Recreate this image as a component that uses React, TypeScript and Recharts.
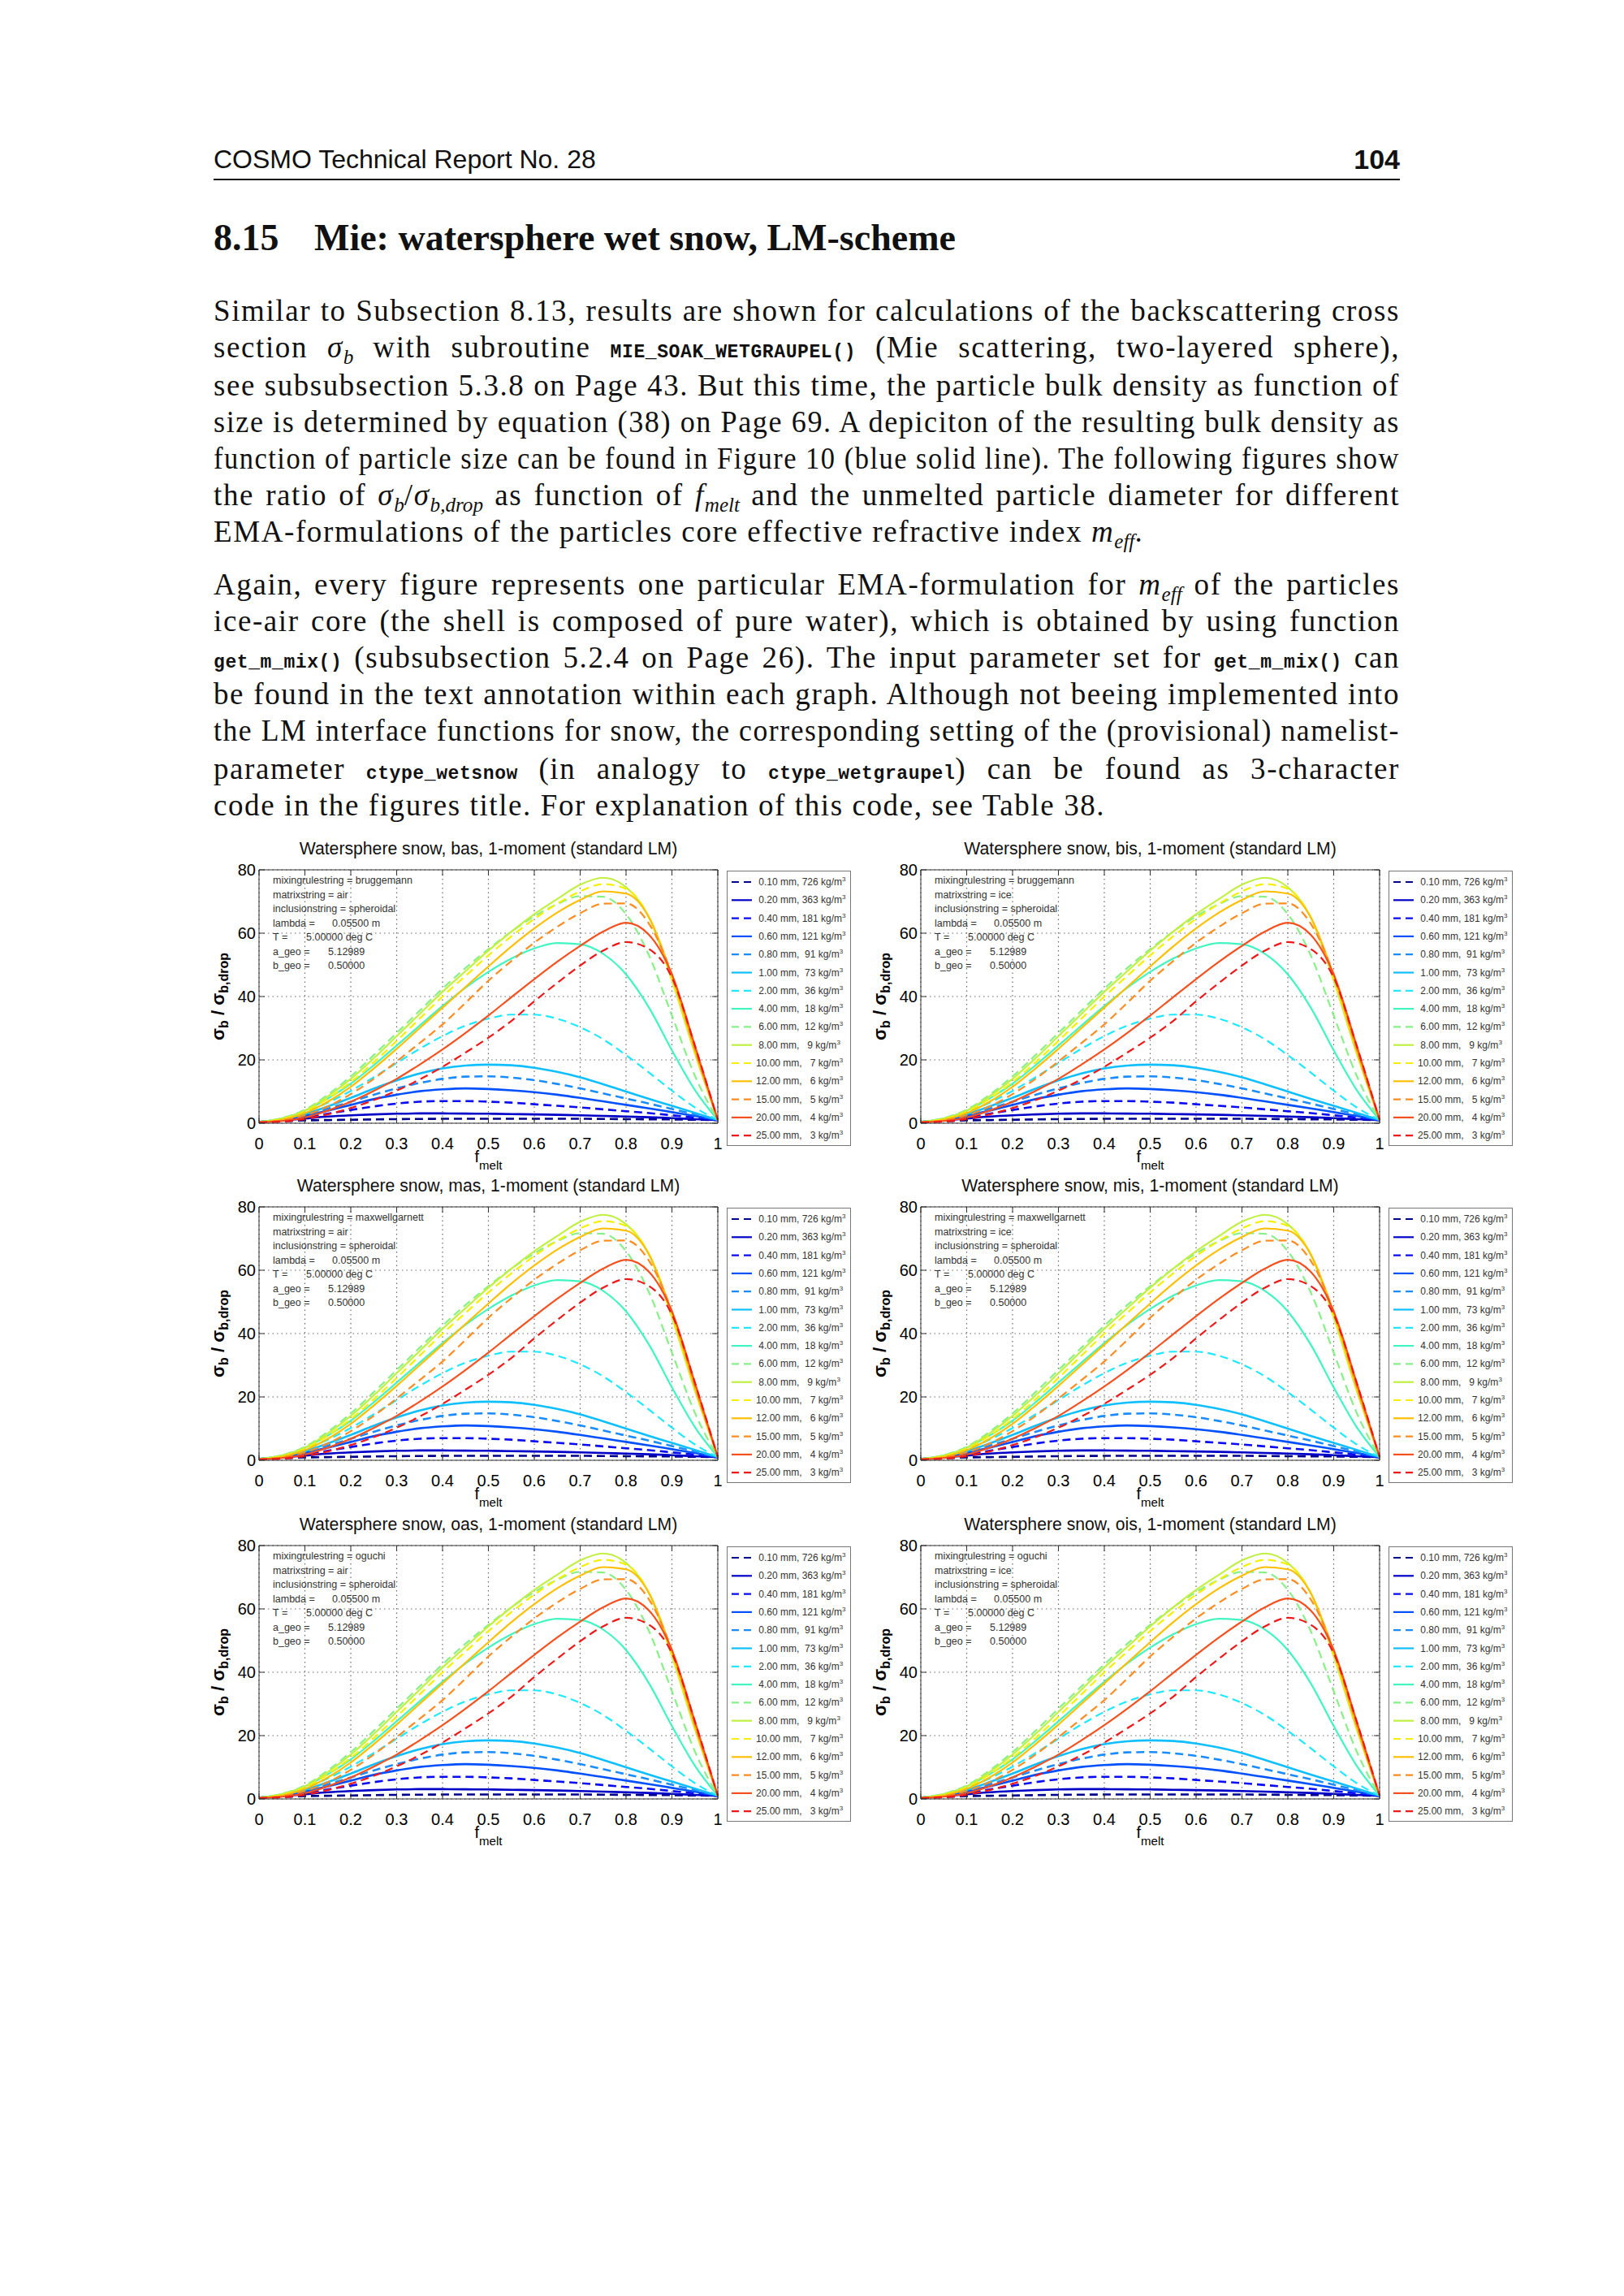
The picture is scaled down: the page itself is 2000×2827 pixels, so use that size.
import React from 'react';
import { LineChart, Line, XAxis, YAxis, CartesianGrid, Legend } from 'recharts';

// ---------------- data ----------------
const F_MELT = [0, 0.05, 0.1, 0.15, 0.2, 0.25, 0.3, 0.35, 0.4, 0.45, 0.5, 0.55, 0.6, 0.65, 0.7, 0.75, 0.8, 0.85, 0.9, 0.95, 1];

const D010 = [0.4, 0.6, 0.9, 1.0, 1.1, 1.2, 1.3, 1.35, 1.4, 1.4, 1.4, 1.4, 1.4, 1.4, 1.4, 1.35, 1.3, 1.25, 1.2, 1.1, 1.0];
const D020 = [0.4, 0.9, 1.5, 2.1, 2.5, 2.8, 3.0, 3.1, 3.1, 3.05, 3.0, 2.9, 2.8, 2.65, 2.5, 2.3, 2.1, 1.9, 1.6, 1.3, 1.0];
const D040 = [0.4, 1.0, 1.8, 3.0, 4.2, 5.3, 6.2, 6.8, 7.0, 7.0, 6.8, 6.5, 6.0, 5.5, 5.0, 4.4, 3.8, 3.2, 2.5, 1.8, 1.0];
const D060 = [0.4, 1.1, 2.3, 4.0, 5.8, 7.6, 9.0, 10.1, 10.7, 11.0, 10.8, 10.4, 9.8, 9.0, 8.0, 6.9, 5.8, 4.7, 3.5, 2.3, 1.0];
const D080 = [0.4, 1.2, 2.6, 4.6, 6.8, 9.0, 11.0, 12.7, 14.0, 14.7, 14.8, 14.4, 13.6, 12.4, 11.0, 9.4, 7.8, 6.2, 4.5, 2.8, 1.0];
const D100 = [0.4, 1.3, 2.9, 5.3, 8.0, 10.9, 13.5, 15.7, 17.3, 18.2, 18.5, 18.3, 17.5, 16.2, 14.5, 12.3, 10.0, 7.7, 5.5, 3.3, 1.0];
const D200 = [0.4, 1.3, 3.4, 6.5, 10.2, 14.5, 19.0, 23.5, 27.5, 30.8, 33.0, 34.3, 34.3, 33.0, 30.3, 26.5, 21.5, 16.0, 10.3, 5.0, 1.0];
const D400 = [0.4, 1.5, 4.0, 7.8, 12.5, 18.3, 24.5, 30.8, 37.0, 42.8, 47.8, 52.0, 55.2, 56.9, 56.5, 53.5, 47.0, 36.5, 23.0, 10.5, 1.0];
const D600 = [0.4, 1.6, 4.3, 9.0, 14.8, 21.5, 28.5, 35.5, 42.5, 49.0, 55.0, 60.5, 65.3, 69.2, 71.7, 71.5, 66.0, 53.0, 34.0, 15.0, 1.0];
const D800 = [0.4, 1.5, 4.0, 8.5, 14.0, 20.5, 27.5, 34.5, 41.5, 48.0, 54.5, 60.5, 66.0, 70.8, 75.3, 77.5, 74.5, 65.0, 45.0, 22.0, 1.0];
const D1000 = [0.3, 1.3, 3.6, 7.8, 13.0, 19.2, 26.0, 33.0, 40.0, 46.5, 53.0, 59.0, 64.5, 69.3, 73.2, 75.5, 74.0, 65.0, 45.5, 22.5, 1.0];
const D1200 = [0.3, 1.1, 3.2, 6.8, 11.5, 17.3, 23.5, 30.0, 36.5, 43.0, 49.5, 55.8, 61.5, 66.5, 70.5, 73.2, 72.5, 65.0, 46.5, 23.0, 1.0];
const D1500 = [0.3, 0.9, 2.5, 5.3, 9.2, 14.0, 19.5, 25.3, 31.2, 38.0, 45.0, 51.2, 57.0, 62.0, 66.3, 69.3, 69.4, 63.0, 47.0, 23.5, 1.0];
const D2000 = [0.3, 0.7, 1.8, 4.0, 6.8, 10.2, 14.0, 18.5, 23.3, 28.5, 34.0, 39.8, 45.5, 51.0, 56.0, 60.5, 63.3, 59.5, 47.0, 24.5, 1.0];
const D2500 = [0.3, 0.5, 1.3, 2.8, 4.8, 7.3, 10.3, 13.8, 17.8, 22.3, 27.0, 32.3, 38.5, 44.3, 49.8, 54.5, 57.2, 55.0, 46.0, 24.5, 1.0];

const SERIES_VALUES = [D010, D020, D040, D060, D080, D100, D200, D400, D600, D800, D1000, D1200, D1500, D2000, D2500];
const DIAMETERS = ['0.10', '0.20', '0.40', '0.60', '0.80', '1.00', '2.00', '4.00', '6.00', '8.00', '10.00', '12.00', '15.00', '20.00', '25.00'];
const DENSITIES = [726, 363, 181, 121, 91, 73, 36, 18, 12, 9, 7, 6, 5, 4, 3];
const COLORS = ['#00008F', '#0000C8', '#0A0AF5', '#0050FF', '#1A8CFF', '#10BFFF', '#20E8FF', '#40F5C0', '#88F088', '#C0F040', '#F5F000', '#FFBF00', '#FF8C20', '#F5501E', '#F01818'];
const DASHED = [true, false, true, false, true, false, true, false, true, false, true, false, true, false, true];

const X_TICKS = [0, 0.1, 0.2, 0.3, 0.4, 0.5, 0.6, 0.7, 0.8, 0.9, 1];
const Y_TICKS = [0, 20, 40, 60, 80];

const PANEL_CODES = ['bas', 'bis', 'mas', 'mis', 'oas', 'ois'];
const MIXING = ['bruggemann', 'bruggemann', 'maxwellgarnett', 'maxwellgarnett', 'oguchi', 'oguchi'];
const MATRIX = ['air', 'ice', 'air', 'ice', 'air', 'ice'];
const LAMBDA_TXT = '0.05500 m';
const T_TXT = '5.00000 deg C';
const AGEO_TXT = '5.12989';
const BGEO_TXT = '0.50000';

const TABLE = F_MELT.map((x, i) => {
  const row: Record<string, number> = { x };
  SERIES_VALUES.forEach((v, k) => { row['s' + k] = v[i]; });
  return row;
});

const SERIES = DIAMETERS.map((d, k) => ({
  key: 's' + k,
  color: COLORS[k],
  dashed: DASHED[k],
  label: `${d.padStart(5, ' ')} mm, ${String(DENSITIES[k]).padStart(3, ' ')} kg/m`,
}));

// ---------------- layout ----------------
const SANS = '"Liberation Sans", Arial, Helvetica, sans-serif';
const SERIF = '"Liberation Serif", "Times New Roman", serif';
const MONO = '"Liberation Mono", "DejaVu Sans Mono", monospace';

const PW = 565, PH = 312;
const ML = 80, MT = 10, MR = 175, MB = 75;
const YW = 40, XH = 40;
const COL_LEFT = [319, 1134];
const ROW_TOP = [1071, 1486, 1903];
const AX = '#333';

function FLabel() {
  const cx = ML + PW / 2;
  const y = MT + PH;
  return (
    <text x={cx} y={y + 48} textAnchor="middle" fontFamily={SANS} fill="#000">
      <tspan fontSize={20}>f</tspan>
      <tspan fontSize={15} dy={9}>melt</tspan>
    </text>
  );
}

function SLabel() {
  const cx = ML - 43;
  const cy = MT + PH / 2;
  return (
    <text transform={`translate(${cx},${cy}) rotate(-90)`} textAnchor="middle" fontFamily={SANS} fill="#000" fontWeight={700}>
      <tspan fontSize={22}>σ</tspan>
      <tspan fontSize={16} dy={5}>b</tspan>
      <tspan fontSize={22} dy={-5}> / σ</tspan>
      <tspan fontSize={16} dy={5}>b,drop</tspan>
    </text>
  );
}

function LegendBox() {
  const w = 153, h = 339;
  return (
    <svg width={w} height={h} style={{ display: 'block' }}>
      <rect x={0.5} y={0.5} width={w - 1} height={h - 1} fill="#fff" stroke="#777" strokeWidth={1} />
      {SERIES.map((s, i) => {
        const y = 14 + i * 22.3;
        return (
          <g key={s.key}>
            <line x1={6} x2={31} y1={y} y2={y} stroke={s.color} strokeWidth={2.2}
              strokeDasharray={s.dashed ? '9 6' : undefined} />
            <text x={36} y={y + 4} fontSize={12} fontFamily={SANS} fill="#333" style={{ whiteSpace: 'pre' }}>
              {s.label}<tspan dy={-5} fontSize={8}>3</tspan>
            </text>
          </g>
        );
      })}
    </svg>
  );
}

function Annotation({ left, top, mix, matrix }: { left: number; top: number; mix: string; matrix: string }) {
  const rows = [
    { l: `mixingrulestring = ${mix}` },
    { l: `matrixstring = ${matrix}` },
    { l: 'inclusionstring = spheroidal' },
    { l: 'lambda =', v: LAMBDA_TXT, vx: 90 },
    { l: 'T =', v: T_TXT, vx: 58 },
    { l: 'a_geo =', v: AGEO_TXT, vx: 85 },
    { l: 'b_geo =', v: BGEO_TXT, vx: 85 },
  ];
  const base: React.CSSProperties = {
    position: 'absolute', height: 18, lineHeight: '18px', fontSize: 12.5,
    fontFamily: SANS, color: '#333', whiteSpace: 'nowrap',
  };
  return (
    <>
      {rows.map((r, i) => {
        const cy = top + 13 + i * 17.5;
        return (
          <React.Fragment key={i}>
            <div style={{ ...base, left: left + 17, top: cy - 9 }}>{r.l}</div>
            {r.v ? <div style={{ ...base, left: left + (r as any).vx, top: cy - 9 }}>{r.v}</div> : null}
          </React.Fragment>
        );
      })}
    </>
  );
}

function Panel({ idx }: { idx: number }) {
  const left = COL_LEFT[idx % 2];
  const top = ROW_TOP[Math.floor(idx / 2)];
  const tickStyle = { fill: '#000', fontSize: 20, fontFamily: SANS };
  return (
    <>
      <div style={{ position: 'absolute', left, top: top - 40, width: PW, height: 28, lineHeight: '28px', textAlign: 'center', fontFamily: SANS, fontSize: 21.2, color: '#111', whiteSpace: 'nowrap' }}>
        {`Watersphere snow, ${PANEL_CODES[idx]}, 1-moment (standard LM)`}
      </div>
      <div style={{ position: 'absolute', left: left - ML, top: top - MT }}>
        <LineChart width={ML + PW + MR} height={MT + PH + MB} data={TABLE}
          margin={{ top: MT - 2, right: MR - 2, bottom: MB - XH, left: ML - YW }}>
          <CartesianGrid stroke="#6a6a6a" strokeDasharray="1.5 4" strokeWidth={1.2} />
          <XAxis dataKey="x" type="number" domain={[0, 1]} ticks={X_TICKS} interval={0}
            height={XH} tickSize={-7} tickMargin={25} tick={tickStyle}
            axisLine={{ stroke: AX }} tickLine={{ stroke: AX }} label={<FLabel />} />
          <XAxis xAxisId="top" dataKey="x" orientation="top" type="number" domain={[0, 1]} ticks={X_TICKS} interval={0}
            height={2} tickSize={-7} tickFormatter={() => ''}
            axisLine={{ stroke: AX }} tickLine={{ stroke: AX }} />
          <YAxis type="number" domain={[0, 80]} ticks={Y_TICKS} interval={0}
            width={YW} tickSize={-7} tickMargin={11} tick={tickStyle}
            axisLine={{ stroke: AX }} tickLine={{ stroke: AX }} label={<SLabel />} />
          <YAxis yAxisId="right" orientation="right" type="number" domain={[0, 80]} ticks={Y_TICKS} interval={0}
            width={2} tickSize={-7} tickFormatter={() => ''}
            axisLine={{ stroke: AX }} tickLine={{ stroke: AX }} />
          <Line xAxisId="top" yAxisId="right" dataKey="s0" stroke="none" strokeWidth={0}
            dot={false} activeDot={false} legendType="none" isAnimationActive={false} />
          {SERIES.map((s, k) => (
            <Line key={s.key} dataKey={s.key} type="monotone" stroke={s.color}
              strokeWidth={k < 6 ? 2.6 : 2.2} strokeDasharray={s.dashed ? '10 6' : undefined}
              dot={false} activeDot={false} isAnimationActive={false} />
          ))}
          <Legend layout="vertical" align="center" verticalAlign="middle" content={<LegendBox />}
            wrapperStyle={{ left: ML + PW + 11, top: MT + 1, width: 153, height: 339 }} />
        </LineChart>
      </div>
      <Annotation left={left} top={top} mix={MIXING[idx]} matrix={MATRIX[idx]} />
    </>
  );
}

// ---------------- page text ----------------
const TEXT_LEFT = 263, TEXT_W = 1461, LINE_H = 46;

const Sub = ({ children }: { children: React.ReactNode }) => (
  <sub style={{ fontSize: '0.68em', verticalAlign: '-0.32em', lineHeight: 0, letterSpacing: 0 }}>{children}</sub>
);
const Tt = ({ children }: { children: React.ReactNode }) => (
  <span style={{ fontFamily: MONO, fontSize: 23, fontWeight: 700, letterSpacing: 0.6 }}>{children}</span>
);
const Sigma = ({ sub }: { sub: string }) => (<><i>σ</i><Sub><i>{sub}</i></Sub></>);

function TextLine({ cy, last, children }: { cy: number; last?: boolean; children: React.ReactNode }) {
  const ref = React.useRef<HTMLSpanElement>(null);
  const [fit, setFit] = React.useState({ ws: 0, sx: 1 });
  React.useLayoutEffect(() => {
    const el = ref.current;
    if (!el) return;
    const w = el.getBoundingClientRect().width;
    const n = ((el.textContent || '').match(/ /g) || []).length;
    if (w > TEXT_W) setFit({ ws: 0, sx: TEXT_W / w });
    else if (!last && n > 0) setFit({ ws: (TEXT_W - w) / n, sx: 1 });
  }, [last]);
  return (
    <div style={{
      position: 'absolute', left: TEXT_LEFT, top: cy - LINE_H / 2, height: LINE_H,
      lineHeight: `${LINE_H}px`, fontFamily: SERIF, fontSize: 37, letterSpacing: 1.6, color: '#111',
      whiteSpace: 'nowrap', transform: `scaleX(${fit.sx})`, transformOrigin: 'left center',
    }}>
      <span ref={ref} style={{ wordSpacing: fit.ws }}>{children}</span>
    </div>
  );
}

export default function App() {
  return (
    <div style={{ position: 'absolute', left: 0, top: 0, width: 2000, height: 2827, background: '#fff', overflow: 'hidden' }}>
      {/* header */}
      <div style={{ position: 'absolute', left: TEXT_LEFT, top: 196 - 20, height: 40, lineHeight: '40px', fontFamily: SANS, fontSize: 32, color: '#111' }}>
        COSMO Technical Report No. 28
      </div>
      <div style={{ position: 'absolute', left: TEXT_LEFT, width: TEXT_W, top: 196 - 20, height: 40, lineHeight: '40px', fontFamily: SANS, fontSize: 34, fontWeight: 700, color: '#111', textAlign: 'right' }}>
        104
      </div>
      <div style={{ position: 'absolute', left: TEXT_LEFT, width: TEXT_W, top: 220, height: 2, background: '#111' }} />

      {/* section title */}
      <div style={{ position: 'absolute', left: TEXT_LEFT, top: 293 - 26, height: 52, lineHeight: '52px', fontFamily: SERIF, fontSize: 46, fontWeight: 700, color: '#111' }}>8.15</div>
      <div style={{ position: 'absolute', left: 387, top: 293 - 26, height: 52, lineHeight: '52px', fontFamily: SERIF, fontSize: 46, fontWeight: 700, color: '#111', whiteSpace: 'nowrap' }}>Mie: watersphere wet snow, LM-scheme</div>

      {/* paragraph 1 */}
      <TextLine cy={383}>Similar to Subsection 8.13, results are shown for calculations of the backscattering cross</TextLine>
      <TextLine cy={428}>section <Sigma sub="b" /> with subroutine <Tt>MIE_SOAK_WETGRAUPEL()</Tt> (Mie scattering, two-layered sphere),</TextLine>
      <TextLine cy={475}>see subsubsection 5.3.8 on Page 43. But this time, the particle bulk density as function of</TextLine>
      <TextLine cy={520}>size is determined by equation (38) on Page 69. A depiciton of the resulting bulk density as</TextLine>
      <TextLine cy={565}>function of particle size can be found in Figure 10 (blue solid line). The following figures show</TextLine>
      <TextLine cy={610}>the ratio of <Sigma sub="b" />/<Sigma sub="b,drop" /> as function of <i>f</i><Sub><i>melt</i></Sub> and the unmelted particle diameter for different</TextLine>
      <TextLine cy={655} last>EMA-formulations of the particles core effective refractive index <i>m</i><Sub><i>eff</i></Sub>.</TextLine>

      {/* paragraph 2 */}
      <TextLine cy={720}>Again, every figure represents one particular EMA-formulation for <i>m</i><Sub><i>eff</i></Sub> of the particles</TextLine>
      <TextLine cy={765}>ice-air core (the shell is composed of pure water), which is obtained by using function</TextLine>
      <TextLine cy={810}><Tt>get_m_mix()</Tt> (subsubsection 5.2.4 on Page 26). The input parameter set for <Tt>get_m_mix()</Tt> can</TextLine>
      <TextLine cy={855}>be found in the text annotation within each graph. Although not beeing implemented into</TextLine>
      <TextLine cy={900}>the LM interface functions for snow, the corresponding setting of the (provisional) namelist-</TextLine>
      <TextLine cy={947}>parameter <Tt>ctype_wetsnow</Tt> (in analogy to <Tt>ctype_wetgraupel</Tt>) can be found as 3-character</TextLine>
      <TextLine cy={992} last>code in the figures title. For explanation of this code, see Table 38.</TextLine>

      {PANEL_CODES.map((_, i) => <Panel key={i} idx={i} />)}
    </div>
  );
}
